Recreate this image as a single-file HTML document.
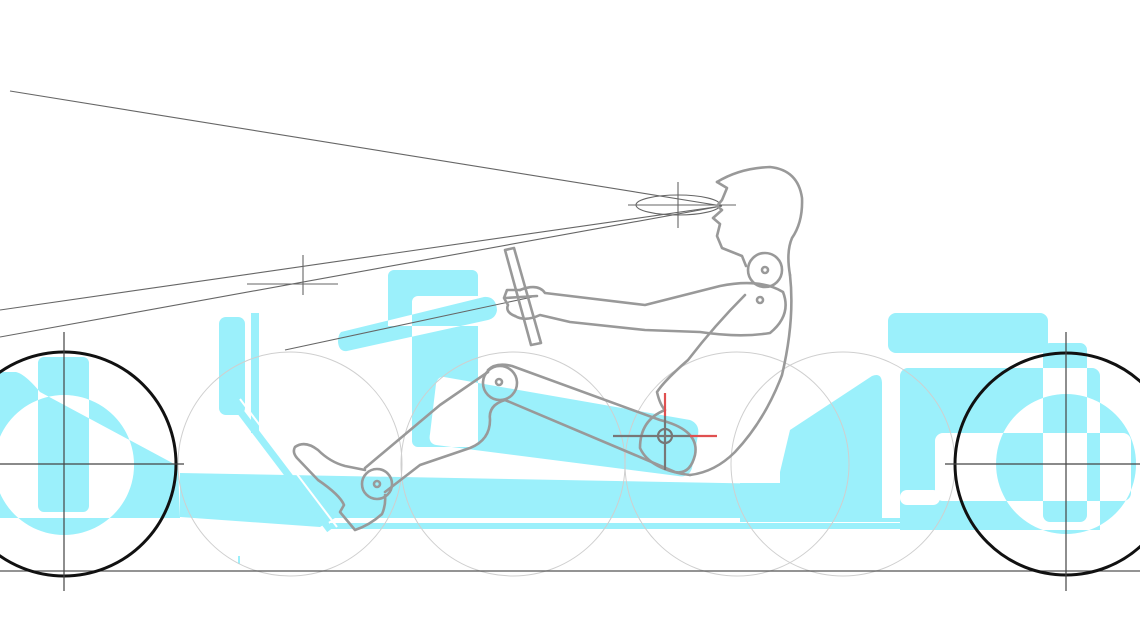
<!DOCTYPE html>
<html><head><meta charset="utf-8"><style>html,body{margin:0;padding:0;background:#fff;}svg{display:block}</style></head>
<body>
<svg width="1140" height="641" viewBox="0 0 1140 641" xmlns="http://www.w3.org/2000/svg">
<rect width="1140" height="641" fill="#fff"/>
<g fill="#9bf0fb" fill-rule="evenodd">
  <path d="M64,395 a70,70 0 1,0 0.1,0 Z M44,357 h39 a6,6 0 0 1 6,6 v143 a6,6 0 0 1 -6,6 h-39 a6,6 0 0 1 -6,-6 v-143 a6,6 0 0 1 6,-6 Z M0,372 L16,372 Q25,374 40,392 L178,466 L180,518 L0,518 Z"/>
  <path d="M180,473 L780,484 L780,518 L335,518 L320,527 L180,517 Z"/>
  <rect x="330" y="523" width="570" height="6"/>
  <rect x="219" y="317" width="26" height="98" rx="7"/>
  <rect x="251" y="313" width="8" height="120"/>
  <path d="M394,270 h78 a6,6 0 0 1 6,6 v50 h-90 v-50 a6,6 0 0 1 6,-6 Z M418,296 h60 v145 a6,6 0 0 1 -6,6 h-54 a6,6 0 0 1 -6,-6 v-139 a6,6 0 0 1 6,-6 Z M341,332 L484,297 Q496,296 497,310 Q496,318 488,320 L347,351 Q339,352 338,342 Q338,335 341,332 Z M444,377 L690,420 Q700,424 698,435 L692,468 Q689,478 678,476 L436,445 Q428,443 430,434 L436,384 Q438,376 444,377 Z"/>
  <path d="M780,472 L790,430 L872,376 Q882,372 882,384 L882,522 L780,522 Z"/>
  <rect x="740" y="483" width="42" height="35"/>
  <rect x="740" y="518" width="160" height="4"/>
  <rect x="888" y="313" width="160" height="40" rx="8"/>
  <path d="M908,368 h184 a8,8 0 0 1 8,8 v154 h-200 v-154 a8,8 0 0 1 8,-8 Z M943,433 h180 a8,8 0 0 1 8,8 v52 a8,8 0 0 1 -8,8 h-180 a8,8 0 0 1 -8,-8 v-52 a8,8 0 0 1 8,-8 Z M1066,394 a70,70 0 1,0 0.1,0 Z M1050,343 h30 a7,7 0 0 1 7,7 v165 a7,7 0 0 1 -7,7 h-30 a7,7 0 0 1 -7,-7 v-165 a7,7 0 0 1 7,-7 Z"/>
  <rect x="900" y="490" width="40" height="15" rx="7" fill="#fff"/>
  <rect x="238" y="556" width="2" height="8"/>
</g>
<line x1="233" y1="402" x2="330" y2="530" stroke="#9bf0fb" stroke-width="7"/>
<line x1="240" y1="399" x2="337" y2="527" stroke="#fff" stroke-width="2"/>
<g fill="none" stroke="#cfcfcf" stroke-width="1">
  <circle cx="290" cy="464" r="112"/><circle cx="513" cy="464" r="112"/>
  <circle cx="737" cy="464" r="112"/><circle cx="843" cy="464" r="112"/>
</g>
<line x1="0" y1="571" x2="1140" y2="571" stroke="#555" stroke-width="1.2"/>
<g fill="none" stroke="#111" stroke-width="3">
  <circle cx="64" cy="464" r="112"/><circle cx="1066" cy="464" r="111"/>
</g>
<g stroke="#444" stroke-width="1.2">
  <line x1="64" y1="332" x2="64" y2="591"/><line x1="0" y1="464" x2="184" y2="464"/>
  <line x1="1066" y1="332" x2="1066" y2="591"/><line x1="945" y1="464" x2="1140" y2="464"/>
</g>
<g stroke="#666" stroke-width="1.1" fill="none">
  <line x1="10" y1="91" x2="722" y2="206"/>
  <line x1="0" y1="310" x2="722" y2="206"/>
  <line x1="0" y1="337" x2="722" y2="206"/>
  <line x1="285" y1="350" x2="537" y2="296"/>
  <line x1="303" y1="255" x2="303" y2="295"/><line x1="247" y1="284" x2="338" y2="284"/>
  <ellipse cx="678" cy="205" rx="42" ry="10"/>
  <line x1="678" y1="182" x2="678" y2="228"/><line x1="628" y1="205" x2="736" y2="205"/>
</g>
<g fill="none" stroke="#999" stroke-width="2.6" stroke-linejoin="round" stroke-linecap="round">
  <path d="M717,182 Q740,168 770,167 Q798,170 802,198 Q803,222 792,238 Q786,252 790,275"/>
  <path d="M717,182 L727,188 L722,200 L717,206 L722,210 L713,218 L720,224 L717,236 L722,248 L742,256 L746,266"/>
  <circle cx="765" cy="270" r="17"/><circle cx="765" cy="270" r="3"/><circle cx="760" cy="300" r="3"/>
  <path d="M520,290 Q538,283 545,293 L645,305 L720,286 Q760,278 783,292 Q792,315 770,333 Q740,338 700,332 L645,330 L570,322 L540,315 Q525,322 515,316"/>
  <path d="M515,316 Q505,312 508,305 L504,298 L507,290 L520,290"/>
  <path d="M790,275 Q795,320 782,375 Q765,420 735,452 Q715,472 690,475"/>
  <path d="M745,295 Q715,325 688,360 Q665,380 657,392 Q660,405 665,410 Q640,420 640,448 Q650,470 690,475"/>
  <path d="M505,250 L514,248 L541,343 L531,345 Z"/>
  <line x1="505" y1="298" x2="537" y2="296"/>
  <path d="M488,370 Q496,362 512,366 L660,420 Q700,430 695,455 Q690,475 675,472 L635,455 L505,400"/>
  <circle cx="500" cy="383" r="17"/><circle cx="499" cy="382" r="3"/>
  <path d="M488,372 L440,405 L365,468"/>
  <path d="M505,400 Q488,405 490,420 Q490,440 470,448 L420,465 L385,492"/>
  <circle cx="377" cy="484" r="15"/><circle cx="377" cy="484" r="3"/>
  <path d="M365,470 L345,466 Q330,462 318,450 Q305,440 295,447 Q292,452 297,458 L318,480 Q340,495 344,505 L340,512 L355,530 Q370,525 382,514 Q386,505 385,495"/>
</g>
<g stroke-width="2.2">
  <line x1="665" y1="393" x2="665" y2="416" stroke="#e05050"/>
  <line x1="665" y1="416" x2="665" y2="470" stroke="#777"/>
  <line x1="690" y1="436" x2="717" y2="436" stroke="#e05050"/>
  <line x1="613" y1="436" x2="690" y2="436" stroke="#777"/>
  <circle cx="665" cy="436" r="7" fill="none" stroke="#777"/>
</g>
</svg>
</body></html>
